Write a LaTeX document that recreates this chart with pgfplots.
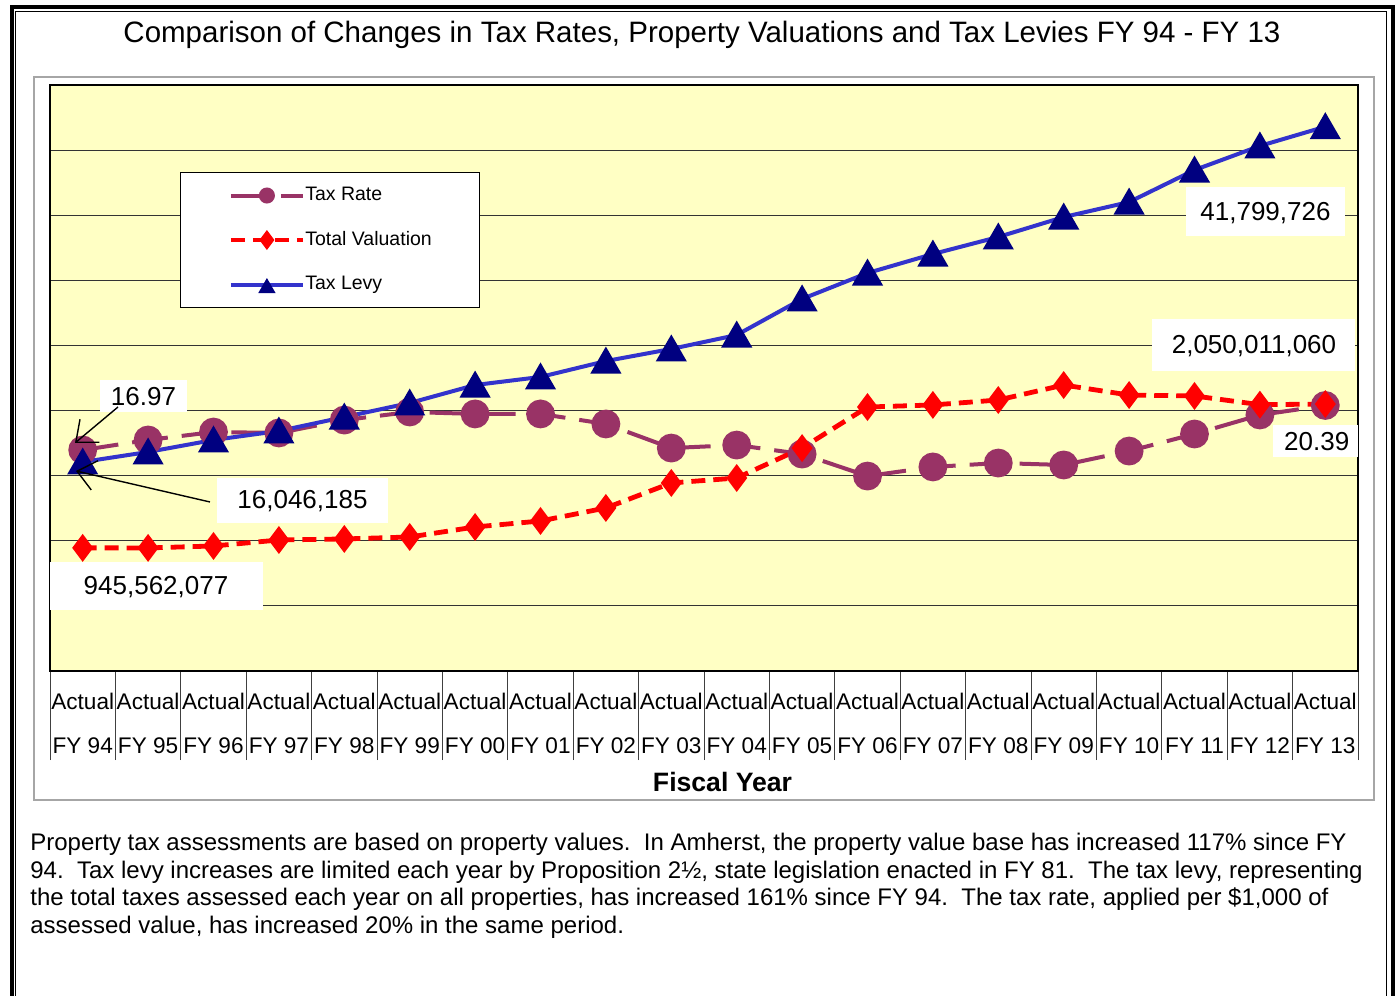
\documentclass[border=0pt]{standalone}
\usepackage{fontspec}
\setmainfont{Liberation Sans}
\usepackage{pgfplots}
\usepackage{pgfplotstable}
\pgfplotsset{compat=1.18}
\usetikzlibrary{arrows.meta}
\definecolor{rateC}{HTML}{993366}
\definecolor{valC}{HTML}{FF0000}
\definecolor{levyC}{HTML}{3333CC}
\definecolor{levyM}{HTML}{000080}
\definecolor{bgY}{HTML}{FFFFC4}

% rate: $ per $1,000; val: total valuation in $M; levy: tax levy in $M
\pgfplotstableread{
x rate val levy
0 16.97 945.6 16.05
1 17.74 945.0 16.82
2 18.35 960.0 17.74
3 18.28 1006 18.43
4 19.27 1014 19.50
5 19.89 1029 20.58
6 19.74 1106 21.96
7 19.74 1152 22.58
8 18.97 1252 23.80
9 17.12 1444 24.73
10 17.35 1482 25.80
11 16.66 1712 28.57
12 14.97 2027 30.56
13 15.67 2043 32.02
14 15.97 2081 33.33
15 15.82 2196 34.86
16 16.89 2119 36.01
17 18.20 2112 38.47
18 19.66 2045 40.32
19 20.39 2050.0 41.80
}\datatable

\begin{document}
\begin{tikzpicture}
\useasboundingbox (0,0) rectangle (699.5pt,498pt);
\fill[white] (0,0) rectangle (699.5pt,498pt);
\begin{scope}[x=0.5pt,y=-0.5pt,yshift=498pt]
  \draw[line width=2pt] (12,1000) -- (12,7.5) -- (1393,7.5) -- (1393,1000);
  \draw[line width=0.6pt] (15.5,1000) -- (15.5,11.5) -- (1386.5,11.5) -- (1386.5,1000);
  \draw[gray!70, line width=0.7pt] (34,77) rectangle (1374,800);
  \node[font=\fontsize{14.75pt}{17pt}\selectfont] at (702,35) {Comparison of Changes in Tax Rates, Property Valuations and Tax Levies FY 94 - FY 13};
\end{scope}

\begin{axis}[
  at={(25pt,162.5pt)}, anchor=south west,
  scale only axis, width=654pt, height=293pt,
  xmin=-0.5, xmax=19.5, ymin=0, ymax=45,
  xtick={0,...,19},
  xticklabels={{Actual\\FY 94},{Actual\\FY 95},{Actual\\FY 96},{Actual\\FY 97},{Actual\\FY 98},{Actual\\FY 99},{Actual\\FY 00},{Actual\\FY 01},{Actual\\FY 02},{Actual\\FY 03},{Actual\\FY 04},{Actual\\FY 05},{Actual\\FY 06},{Actual\\FY 07},{Actual\\FY 08},{Actual\\FY 09},{Actual\\FY 10},{Actual\\FY 11},{Actual\\FY 12},{Actual\\FY 13}},
  minor xtick={-0.5,0.5,...,19.5},
  ytick={5,10,...,40}, yticklabels={},
  ymajorgrids,
  major tick length=0pt, minor tick length=44.5pt,
  tick align=outside, xtick pos=left, ytick pos=left,
  tick style={black!75, line width=0.5pt},
  grid style={black!80, line width=0.5pt},
  axis line style={line width=1.2pt, black},
  axis background/.style={fill=bgY},
  xticklabel style={font=\fontsize{11.3pt}{22pt}\selectfont, align=center, inner sep=0pt, yshift=-10.8pt},
  legend style={at={(0.0994,0.8515)}, anchor=north west, draw=black, line width=0.5pt, fill=white,
    inner xsep=24pt, inner ysep=7pt, row sep=13.25pt,
    font=\fontsize{9.75pt}{11pt}\selectfont,
    nodes={inner sep=0pt, text height=7pt, text depth=2pt}},
  legend cell align=left,
  legend image code/.code={\draw[mark repeat=2,mark phase=2,#1] plot coordinates {(0pt,0pt) (18pt,0pt) (36pt,0pt)};},
  legend image post style={mark size=3pt},
]
\addplot[color=rateC, line width=2pt, dash pattern=on 18pt off 7pt, mark=*, mark size=6.2pt, mark options={solid, fill=rateC}] table[x=x,y=rate]{\datatable};
\addlegendentry{Tax Rate}
\addplot[color=valC, line width=2.4pt, dash pattern=on 7pt off 4pt, mark=diamond*, mark size=5pt, mark options={solid, fill=valC}] table[x=x,y expr=\thisrow{val}/100]{\datatable};
\addlegendentry{Total Valuation}
\addplot[color=levyC, line width=2pt, mark=triangle*, mark size=7pt, mark options={fill=levyM, draw=levyM, yshift=-1.75pt}] table[x=x,y=levy]{\datatable};
\addlegendentry{Tax Levy}
\end{axis}

\begin{scope}[x=0.5pt,y=-0.5pt,yshift=498pt]
  \tikzset{lbl/.style={font=\fontsize{13pt}{15pt}\selectfont}}
  \fill[white] (100,380) rectangle (187,412);
  \node[lbl] at (143.5,397) {16.97};
  \fill[white] (217,478) rectangle (388,523);
  \node[lbl] at (302.5,501) {16,046,185};
  \fill[white] (50,562) rectangle (263,610);
  \node[lbl] at (156,587) {945,562,077};
  \fill[white] (1186,187) rectangle (1345,236);
  \node[lbl] at (1265.5,213) {41,799,726};
  \fill[white] (1152,319) rectangle (1355,371);
  \node[lbl] at (1254,346) {2,050,011,060};
  \fill[white] (1273,425) rectangle (1358,457);
  \node[lbl] at (1316.7,442) {20.39};
  \draw[line width=0.7pt, -{Straight Barb[length=9pt,width=15pt]}] (118,407) -- (75,443);
  \draw[line width=0.7pt, -{Straight Barb[length=9pt,width=15pt]}] (210,502) -- (76,471);
  \node[font=\bfseries\fontsize{13.3pt}{16pt}\selectfont] at (722.5,782) {Fiscal Year};
  \tikzset{para/.style={anchor=base west, inner sep=0pt, font=\fontsize{12pt}{14pt}\selectfont}}
  \node[para] at (30,851) {Property tax assessments are based on property values.\ \ In Amherst, the property value base has increased 117\% since FY};
  \node[para] at (30,879) {94.\ \ Tax levy increases are limited each year by Proposition 2½, state legislation enacted in FY 81.\ \ The tax levy, representing};
  \node[para] at (30,906) {the total taxes assessed each year on all properties, has increased 161\% since FY 94.\ \ The tax rate, applied per \$1,000 of};
  \node[para] at (30,934) {assessed value, has increased 20\% in the same period.};
\end{scope}
\end{tikzpicture}
\end{document}
